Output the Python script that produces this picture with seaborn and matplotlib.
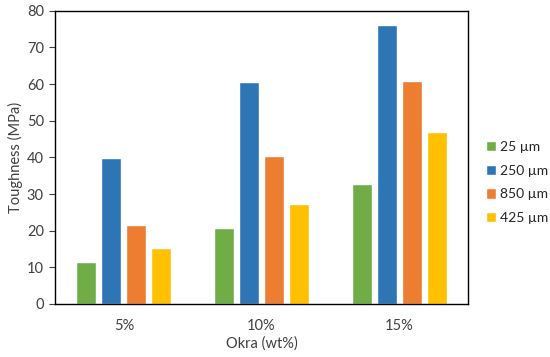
import pandas as pd
import matplotlib.pyplot as plt
import seaborn as sns

# Datos
okra = ["5%", "10%", "15%"]
tamanos = ["25 µm", "250 µm", "850 µm", "425 µm"]
val_25 = [11.4, 20.6, 32.7]
val_250 = [39.8, 60.5, 76.1]
val_850 = [21.5, 40.4, 60.7]
val_425 = [15.3, 27.3, 46.8]
colores = ["#70AD47", "#2E75B6", "#ED7D31", "#FFC000"]

df = pd.DataFrame({
    "okra": okra * 4,
    "tamano": [t for t in tamanos for _ in okra],
    "toughness": val_25 + val_250 + val_850 + val_425,
})

sns.set_style("white")
plt.rcParams["font.family"] = ["Lato", "DejaVu Sans"]

fig = plt.figure(figsize=(5.5, 3.57), dpi=100)
ax = fig.add_axes([0.1, 0.1485, 0.751, 0.8215])
sns.barplot(data=df, x="okra", y="toughness", hue="tamano", order=okra,
            hue_order=tamanos, palette=colores, width=0.726, gap=0.2,
            saturation=1, ax=ax)

ax.set_ylim(0, 80)
ax.set_yticks(range(0, 81, 10))
ax.set_xlim(-0.5, 2.5)
ax.set_xlabel("Okra (wt%)", fontsize=10.5, color="#404040", labelpad=3)
ax.set_ylabel("Toughness (MPa)", fontsize=10.5, color="#404040", labelpad=3)
ax.tick_params(axis="y", left=True, length=4, width=0.8, labelsize=10.5,
               colors="#404040", pad=4)
ax.tick_params(axis="x", bottom=False, labelsize=10.5, colors="#404040", pad=7)
for s in ax.spines.values():
    s.set_color("black")
    s.set_linewidth(1.0)

ax.legend(loc="center left", bbox_to_anchor=(486 / 550, 0.489),
          bbox_transform=fig.transFigure, frameon=False,
          fontsize=10, handlelength=0.75, handleheight=0.75,
          handletextpad=0.25, labelspacing=0.85, borderaxespad=0, borderpad=0)

fig.savefig("out.png", dpi=100)
